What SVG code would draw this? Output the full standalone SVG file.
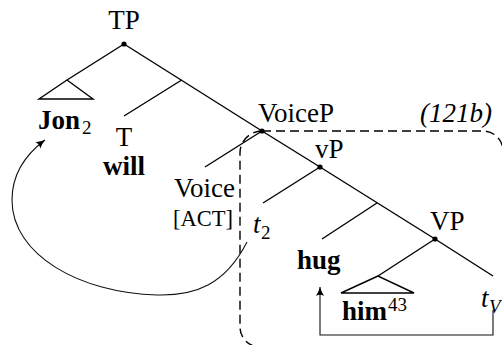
<svg xmlns="http://www.w3.org/2000/svg" width="502" height="345" viewBox="0 0 502 345">
<style>
text{font-family:'Liberation Serif','DejaVu Serif',serif;font-size:27px;fill:#000}
.b{font-weight:bold}
.i{font-style:italic}
.s{font-size:19px}
.sc{font-size:22.5px}
.ln{stroke:#000;stroke-width:1.4;fill:none}
.dash{stroke:#000;stroke-width:1.4;fill:none;stroke-dasharray:9,5}
.arr{stroke:#111;stroke-width:1.1;fill:none}
.dot{fill:#000}
</style>
<defs>
<marker id="ah" markerWidth="12" markerHeight="10" viewBox="-10 -5 12 10" refX="0" refY="0" orient="auto" markerUnits="userSpaceOnUse">
<path d="M-9,-4 Q-4,-1 0,0 Q-4,1 -9,4 Q-6.5,0 -9,-4 Z" fill="#000"/>
</marker>
</defs>
<g id="connectors">
<path class="ln" d="M124,44 L67,80"/>
<path class="ln" d="M67,80 L39,99 H93 Z"/>
<path class="ln" d="M124,44 L262,131"/>
<path class="ln" d="M181.7,80 L124,116"/>
<path class="ln" d="M262,131 L205,167"/>
<path class="ln" d="M262,131 L320,167"/>
<path class="ln" d="M320,167 L263,203"/>
<path class="ln" d="M320,167 L435,239"/>
<path class="ln" d="M377,203 L322,239"/>
<path class="ln" d="M435,239 L378,276"/>
<path class="ln" d="M378,276 L341,293 H414 Z"/>
<path class="ln" d="M435,239 L493,276"/>
<path class="dash" d="M262,131 H483 A20,20 0 0 1 503,151"/>
<path class="dash" d="M262,131 A22,22 0 0 0 240,153 V327 A20,20 0 0 0 260,347"/>
<path class="arr" d="M493,310 V335 H320 V287" marker-end="url(#ah)"/>
<path class="arr" d="M247,242 C225,285 195,296 157,295 C80,293 12,255 12,200 C12,175 25,155 45,140" marker-end="url(#ah)"/>
</g>
<g id="TP"><circle class="dot" cx="124" cy="44" r="2.6"/><text x="124" y="29" text-anchor="middle">TP</text></g>
<g id="Jon"><text x="38" y="129" class="b">Jon</text><text x="82" y="134" class="s">2</text></g>
<g id="T"><text x="124" y="146" text-anchor="middle">T</text><text x="124" y="175" text-anchor="middle" class="b">will</text></g>
<g id="VoiceP"><circle class="dot" cx="262" cy="131" r="2.6"/><text x="258" y="122">VoiceP</text></g>
<g id="label"><text x="492" y="122" text-anchor="end" class="i">(121b)</text></g>
<g id="Voice"><text x="235" y="197" text-anchor="end">Voice</text><text x="233" y="226" text-anchor="end" class="sc">[ACT]</text></g>
<g id="vP"><circle class="dot" cx="320" cy="167" r="2.6"/><text x="315" y="158">vP</text></g>
<g id="t2"><text x="253" y="233" class="i">t</text><text x="261" y="239" class="s">2</text></g>
<g id="hug"><text x="297" y="269" class="b">hug</text></g>
<g id="VP"><circle class="dot" cx="435" cy="239" r="2.6"/><text x="430" y="230">VP</text></g>
<g id="him"><text x="342" y="320" class="b">him</text><text x="388" y="311" class="s">43</text></g>
<g id="tV"><text x="481" y="307" class="i">t</text><text x="489" y="313" class="s i">V</text></g>
</svg>
